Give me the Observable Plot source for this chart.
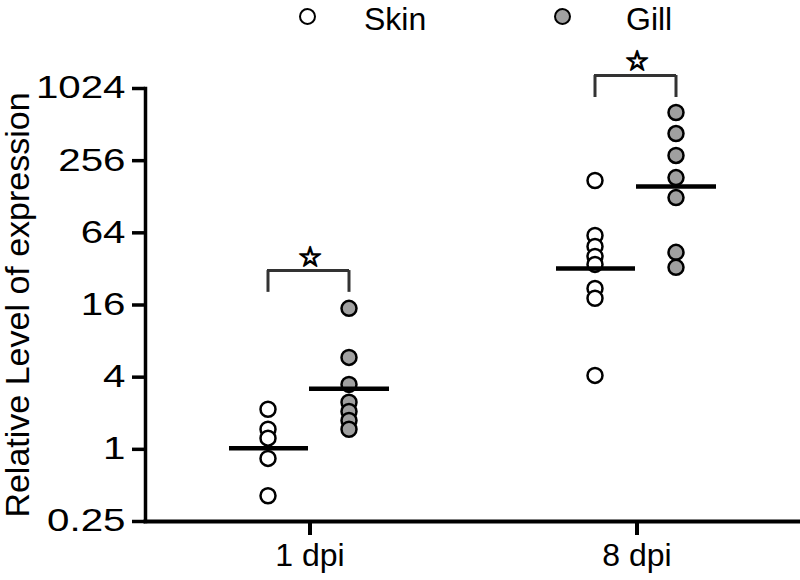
<!DOCTYPE html>
<html>
<head>
<meta charset="utf-8">
<script src="https://cdn.jsdelivr.net/npm/d3@7"></script>
<script src="https://cdn.jsdelivr.net/npm/@observablehq/plot@0.6"></script>
<style>
  html, body { margin: 0; padding: 0; background: #fff; }
  body { width: 800px; height: 580px; overflow: hidden; font-family: "Liberation Sans", Arial, sans-serif; }
  #legend { position: relative; height: 40px; width: 800px; }
  .sw { position: absolute; top: 8px; width: 13px; height: 13px; border-radius: 50%; border: 2.5px solid #000; box-sizing: content-box; }
  .lab { position: absolute; top: 3px; font-size: 32px; line-height: 32px; color: #000; }
</style>
</head>
<body>
<div id="legend"></div>
<div id="chart"></div>
<script>
// ---- data ----
const days = ["1 dpi", "8 dpi"];
const tissues = ["Skin", "Gill"];
const tissueFill = ["#ffffff", "#a0a0a0"];
const skin1dpi = [2.16, 1.47, 1.24, 0.84, 0.41];
const gill1dpi = [15.0, 5.85, 3.48, 2.47, 2.07, 1.74, 1.47];
const skin8dpi = [175, 60.8, 49.3, 40.7, 34.9, 22, 18.2, 4.14];
const gill8dpi = [646, 431, 283, 185, 126, 44, 33];
const skinCenter = [1.02, 32.3];
const gillCenter = [3.2, 156];
const yTicks = [0.25, 1, 4, 16, 64, 256, 1024];
const bracketTop = [31, 1314];
const bracketBottom = [20.4, 861];
const starLevel = [40, 1720];
const starSymbol = "\u2606";
const yLabel = "Relative Level of expression";

// ---- tables ----
const skinPts = [
  ...skin1dpi.map(v => ({day: days[0], value: v})),
  ...skin8dpi.map(v => ({day: days[1], value: v}))
];
const gillPts = [
  ...gill1dpi.map(v => ({day: days[0], value: v})),
  ...gill8dpi.map(v => ({day: days[1], value: v}))
];
const centers = days.map((d, i) => ({day: d, skin: skinCenter[i], gill: gillCenter[i]}));
const sig = days.map((d, i) => ({day: d, top: bracketTop[i], bottom: bracketBottom[i], star: starLevel[i]}));

// ---- legend ----
const legend = document.getElementById("legend");
const legendX = [{c: 299, t: 364}, {c: 554, t: 626}];
tissues.forEach((t, i) => {
  const s = document.createElement("div");
  s.className = "sw";
  s.style.left = legendX[i].c + "px";
  s.style.background = tissueFill[i];
  legend.appendChild(s);
  const l = document.createElement("div");
  l.className = "lab";
  l.style.left = legendX[i].t + "px";
  l.textContent = t;
  legend.appendChild(l);
});

const font = "Liberation Sans, Arial, sans-serif";
const chart = Plot.plot({
  width: 800,
  height: 540,
  marginTop: 48,
  marginBottom: 59,
  marginLeft: 145,
  marginRight: 0,
  style: {fontFamily: font, background: "#fff", color: "#000", overflow: "visible"},
  x: {type: "band", domain: days, padding: 0},
  y: {type: "log", base: 2, domain: [0.25, 1024]},
  marks: [
    Plot.frame({anchor: "left", stroke: "#000", strokeWidth: 3.5}),
    Plot.frame({anchor: "bottom", stroke: "#000", strokeWidth: 4}),
    Plot.axisY({ticks: yTicks, tickFormat: d => String(d), tickSize: 13, tickPadding: 7, strokeWidth: 3.5, fontSize: 31, label: null}),
    Plot.axisX({tickSize: 14, tickPadding: 8, strokeWidth: 4, fontSize: 32, label: null}),
    Plot.text([yLabel], {frameAnchor: "left", rotate: -90, textAnchor: "middle", dx: -127, fontSize: 34, fill: "#000"}),
    Plot.dot(skinPts, {x: "day", y: "value", dx: -42, r: 7.5, fill: tissueFill[0], stroke: "#000", strokeWidth: 2.5}),
    Plot.dot(gillPts, {x: "day", y: "value", dx: 39, r: 7.5, fill: tissueFill[1], stroke: "#000", strokeWidth: 2.5}),
    Plot.tickY(centers, {x: "day", y: "skin", insetLeft: 83, insetRight: 165, stroke: "#000", strokeWidth: 4.5}),
    Plot.tickY(centers, {x: "day", y: "gill", insetLeft: 163, insetRight: 84, stroke: "#000", strokeWidth: 4.5}),
    Plot.tickY(sig, {x: "day", y: "top", insetLeft: 121, insetRight: 124, stroke: "#333", strokeWidth: 3}),
    Plot.ruleX(sig, {x: "day", y1: "bottom", y2: "top", dx: -42, stroke: "#333", strokeWidth: 3}),
    Plot.ruleX(sig, {x: "day", y1: "bottom", y2: "top", dx: 39, stroke: "#333", strokeWidth: 3}),
    Plot.text(sig, {x: "day", y: "star", text: () => starSymbol, fontSize: 27, fill: "#000", stroke: "#000", strokeWidth: 1.6})
  ]
});
document.getElementById("chart").appendChild(chart);
// the reference's y tick labels are drawn wider than the font's natural width
chart.querySelectorAll('g[aria-label="y-axis tick label"] text').forEach(t => {
  const tr = t.getAttribute("transform") || "";
  t.setAttribute("transform", tr + " scale(1.3,1)");
});
</script>
</body>
</html>
